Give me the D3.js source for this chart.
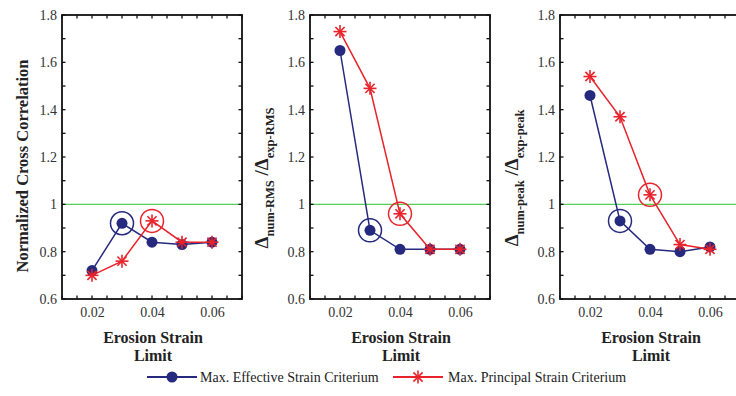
<!DOCTYPE html>
<html>
<head>
<meta charset="utf-8">
<script src="https://cdn.jsdelivr.net/npm/d3@7"></script>
<style>
  html, body { margin: 0; padding: 0; background: #fff; }
  svg { display: block; }
</style>
</head>
<body>
<svg id="chart" width="736" height="396"></svg>
<script>
// Erosion strain limits tested
const strainLimits = [0.02, 0.03, 0.04, 0.05, 0.06];

// Normalized cross correlation
const crossCorrEffective = [0.72, 0.92, 0.84, 0.83, 0.84];
const crossCorrPrincipal = [0.70, 0.76, 0.93, 0.84, 0.84];

// RMS displacement ratio (numerical / experimental)
const rmsRatioEffective = [1.65, 0.89, 0.81, 0.81, 0.81];
const rmsRatioPrincipal = [1.73, 1.49, 0.96, 0.81, 0.81];

// Peak displacement ratio (numerical / experimental)
const peakRatioEffective = [1.46, 0.93, 0.81, 0.80, 0.82];
const peakRatioPrincipal = [1.54, 1.37, 1.04, 0.83, 0.81];

// Selected erosion limit for each criterion
const chosenEffective = 0.03;
const chosenPrincipal = 0.04;

const yTickValues = [0.6, 0.8, 1, 1.2, 1.4, 1.6, 1.8];
const xTickValues = [0.02, 0.04, 0.06];
const seriesNames = ["Max. Effective Strain Criterium", "Max. Principal Strain Criterium"];

const BLUE = "#262a7e";
const RED = "#e8232b";
const GREEN = "#55d055";
const SERIF = "'Liberation Serif', 'Times New Roman', serif";

const svg = d3.select("#chart");

const plotTop = 15, plotBottom = 299, plotW = 180;
const y = d3.scaleLinear().domain([0.6, 1.8]).range([plotBottom, plotTop]);

const panels = [
  { left: 62, eff: crossCorrEffective, pri: crossCorrPrincipal, label: "cc" },
  { left: 310, eff: rmsRatioEffective, pri: rmsRatioPrincipal, label: "RMS" },
  { left: 560, eff: peakRatioEffective, pri: peakRatioPrincipal, label: "peak" }
];

function star(g, cx, cy, r, color) {
  const s = g.append("g").attr("transform", `translate(${cx},${cy})`)
    .attr("stroke", color).attr("stroke-width", 1.6).attr("fill", "none");
  [0, 45, 90, 135].forEach(a => {
    const rad = a * Math.PI / 180;
    s.append("line")
      .attr("x1", -r * Math.cos(rad)).attr("y1", -r * Math.sin(rad))
      .attr("x2", r * Math.cos(rad)).attr("y2", r * Math.sin(rad));
  });
}

panels.forEach(p => {
  const x = d3.scaleLinear().domain([0.01, 0.07]).range([p.left, p.left + plotW]);
  const g = svg.append("g");

  // reference line at ratio 1
  g.append("line")
    .attr("x1", x(0.01)).attr("x2", x(0.07))
    .attr("y1", y(1)).attr("y2", y(1))
    .attr("stroke", GREEN).attr("stroke-width", 1.4);

  // frame
  g.append("rect")
    .attr("x", x(0.01)).attr("y", y(1.8))
    .attr("width", plotW).attr("height", plotBottom - plotTop)
    .attr("fill", "none").attr("stroke", "#111").attr("stroke-width", 1.8);

  // inward ticks on all four sides
  const xMinor = d3.range(0, 13).map(i => 0.01 + i * 0.005);
  const yMinor = d3.range(0, 13).map(i => 0.6 + i * 0.1);
  const tl = 3.5;
  xMinor.forEach(v => {
    g.append("line").attr("x1", x(v)).attr("x2", x(v)).attr("y1", plotBottom).attr("y2", plotBottom - tl)
      .attr("stroke", "#111").attr("stroke-width", 1.3);
    g.append("line").attr("x1", x(v)).attr("x2", x(v)).attr("y1", plotTop).attr("y2", plotTop + tl)
      .attr("stroke", "#111").attr("stroke-width", 1.3);
  });
  yMinor.forEach(v => {
    g.append("line").attr("x1", x(0.01)).attr("x2", x(0.01) + tl).attr("y1", y(v)).attr("y2", y(v))
      .attr("stroke", "#111").attr("stroke-width", 1.3);
    g.append("line").attr("x1", x(0.07)).attr("x2", x(0.07) - tl).attr("y1", y(v)).attr("y2", y(v))
      .attr("stroke", "#111").attr("stroke-width", 1.3);
  });

  // tick labels
  const yAxis = d3.axisLeft(y).tickValues(yTickValues).tickSize(0).tickPadding(5)
    .tickFormat(d => String(+d.toFixed(1)));
  const ya = g.append("g").attr("transform", `translate(${x(0.01)},0)`).call(yAxis);
  ya.select(".domain").remove();
  ya.selectAll("text").attr("font-family", SERIF).attr("font-size", 14).attr("fill", "#333");

  const xAxis = d3.axisBottom(x).tickValues(xTickValues).tickSize(0).tickPadding(8)
    .tickFormat(d3.format(".2f"));
  const xa = g.append("g").attr("transform", `translate(0,${plotBottom})`).call(xAxis);
  xa.select(".domain").remove();
  xa.selectAll("text").attr("font-family", SERIF).attr("font-size", 14).attr("fill", "#333");

  // x title
  const cx = p.left + plotW / 2 + 1;
  g.append("text").attr("x", cx).attr("y", 343).attr("text-anchor", "middle")
    .attr("font-family", SERIF).attr("font-weight", "bold").attr("font-size", 16).attr("fill", "#222")
    .text("Erosion Strain");
  g.append("text").attr("x", cx).attr("y", 361).attr("text-anchor", "middle")
    .attr("font-family", SERIF).attr("font-weight", "bold").attr("font-size", 16).attr("fill", "#222")
    .text("Limit");

  // y title
  if (p.label === "cc") {
    g.append("text")
      .attr("transform", `translate(${p.left - 34},166) rotate(-90)`)
      .attr("text-anchor", "middle")
      .attr("font-family", SERIF).attr("font-weight", "bold").attr("font-size", 16.5).attr("fill", "#222")
      .text("Normalized Cross Correlation");
  } else {
    const t = g.append("text")
      .attr("transform", `translate(${p.left - 42},178) rotate(-90)`)
      .attr("text-anchor", "middle")
      .attr("font-family", SERIF).attr("font-weight", "bold").attr("font-size", 19).attr("fill", "#222");
    t.append("tspan").text("Δ");
    t.append("tspan").attr("dy", 6).attr("font-size", 12.5).text(`num-${p.label}`);
    t.append("tspan").attr("dy", -6).text(" /Δ");
    t.append("tspan").attr("dy", 6).attr("font-size", 12.5).text(`exp-${p.label}`);
  }

  const line = d3.line().x((d, i) => x(strainLimits[i])).y(d => y(d));

  // effective strain series
  g.append("path").datum(p.eff).attr("d", line)
    .attr("fill", "none").attr("stroke", BLUE).attr("stroke-width", 1.5);
  g.selectAll(null).data(p.eff).enter().append("circle")
    .attr("cx", (d, i) => x(strainLimits[i])).attr("cy", d => y(d))
    .attr("r", 5.5).attr("fill", BLUE);
  const ie = strainLimits.indexOf(chosenEffective);
  g.append("circle").attr("cx", x(chosenEffective)).attr("cy", y(p.eff[ie]))
    .attr("r", 11.5).attr("fill", "none").attr("stroke", BLUE).attr("stroke-width", 1.5);

  // principal strain series
  g.append("path").datum(p.pri).attr("d", line)
    .attr("fill", "none").attr("stroke", RED).attr("stroke-width", 1.5);
  p.pri.forEach((d, i) => star(g, x(strainLimits[i]), y(d), 6.5, RED));
  const ip = strainLimits.indexOf(chosenPrincipal);
  g.append("circle").attr("cx", x(chosenPrincipal)).attr("cy", y(p.pri[ip]))
    .attr("r", 11.5).attr("fill", "none").attr("stroke", RED).attr("stroke-width", 1.5);
});

// legend
const lg = svg.append("g");
const ly = 377;
lg.append("line").attr("x1", 147).attr("x2", 197).attr("y1", ly).attr("y2", ly)
  .attr("stroke", BLUE).attr("stroke-width", 1.8);
lg.append("circle").attr("cx", 172).attr("cy", ly).attr("r", 5.5).attr("fill", BLUE);
lg.append("text").attr("x", 200).attr("y", ly + 5).attr("font-family", SERIF)
  .attr("font-size", 14).attr("fill", "#222").text(seriesNames[0]);
lg.append("line").attr("x1", 393).attr("x2", 443).attr("y1", ly).attr("y2", ly)
  .attr("stroke", RED).attr("stroke-width", 1.8);
star(lg, 418, ly, 6.5, RED);
lg.append("text").attr("x", 448).attr("y", ly + 5).attr("font-family", SERIF)
  .attr("font-size", 14).attr("fill", "#222").text(seriesNames[1]);
</script>
</body>
</html>
